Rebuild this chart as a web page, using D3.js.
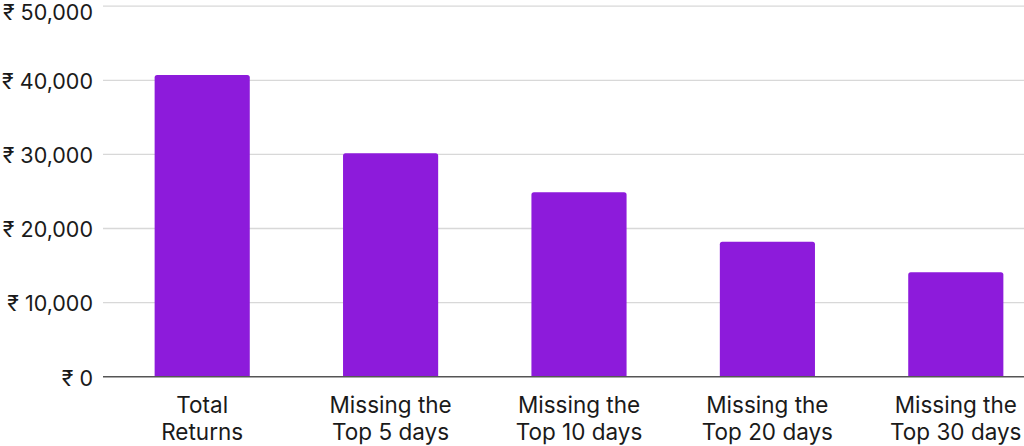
<!DOCTYPE html>
<html>
<head>
<meta charset="utf-8">
<script src="https://cdn.jsdelivr.net/npm/d3@7"></script>
<style>
  html, body { margin: 0; padding: 0; background: #fff; }
  svg { display: block; }
  text { font-family: Inter, "Noto Sans", sans-serif; fill: #1a1a1a; }
</style>
</head>
<body>
<svg id="chart" width="1024" height="446"></svg>
<script>
const categories = [["Total", "Returns"], ["Missing the", "Top 5 days"], ["Missing the", "Top 10 days"], ["Missing the", "Top 20 days"], ["Missing the", "Top 30 days"]];
const values = [40700, 30150, 24900, 18200, 14100];
const yTicks = [0, 10000, 20000, 30000, 40000, 50000];

const svg = d3.select("#chart");
const W = 1024;
const plotLeft = 103;

const y = d3.scaleLinear().domain([0, 50000]).range([376.7, 6.2]);
const x = d3.scaleBand().domain(d3.range(values.length)).range([108, 1050])
  .paddingInner(0.495).paddingOuter(0.2475);

// gridlines
svg.append("g").selectAll("line").data(yTicks.filter(d => d > 0)).join("line")
  .attr("x1", plotLeft).attr("x2", W)
  .attr("y1", d => y(d)).attr("y2", d => y(d))
  .attr("stroke", "#d8d8d8").attr("stroke-width", 1.3);

// y labels
const fmt = d3.format(",");
svg.append("g").selectAll("text").data(yTicks).join("text")
  .attr("x", 93).attr("y", d => Math.max(y(d) + 3, 14))
  .attr("text-anchor", "end").attr("dominant-baseline", "middle")
  .attr("font-size", 21.5)
  .text(d => "₹ " + fmt(d));

// bars
svg.append("g").selectAll("path").data(values).join("path")
  .attr("fill", "#8d1bdb")
  .attr("d", (d, i) => {
    const x0 = x(i), w = x.bandwidth(), y0 = y(d), y1 = y(0), r = 2.5;
    return `M${x0},${y1}V${y0 + r}Q${x0},${y0} ${x0 + r},${y0}H${x0 + w - r}Q${x0 + w},${y0} ${x0 + w},${y0 + r}V${y1}Z`;
  });

// baseline
svg.append("line").attr("x1", plotLeft).attr("x2", W)
  .attr("y1", y(0)).attr("y2", y(0))
  .attr("stroke", "#555").attr("stroke-width", 1.5);

// x labels
const xl = svg.append("g").selectAll("text").data(categories).join("text")
  .attr("text-anchor", "middle").attr("font-size", 22.5)
  .attr("x", (d, i) => x(i) + x.bandwidth() / 2);
xl.selectAll("tspan").data(d => d).join("tspan")
  .attr("x", function() { return d3.select(this.parentNode).attr("x"); })
  .attr("y", (d, j) => 413 + j * 27)
  .text(d => d);
</script>
</body>
</html>
